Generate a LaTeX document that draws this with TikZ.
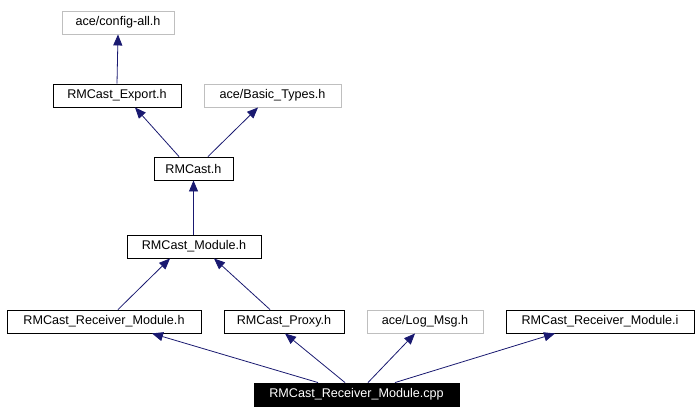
\documentclass[tikz,border=0pt]{standalone}
\usepackage{fontspec}
\setmainfont{Liberation Sans}
\usetikzlibrary{arrows.meta}
\definecolor{edge}{HTML}{191970}
\definecolor{gr}{HTML}{BFBFBF}
\begin{document}
\begin{tikzpicture}[x=1pt,y=-1pt,
 box/.style={draw=black,line width=0.9pt,minimum height=23pt,inner sep=0pt,font=\fontsize{12.6}{14}\selectfont},
 gbox/.style={box,draw=gr},
 dk/.style={box,fill=black,text=white},
 e/.style={draw=edge,line width=0.8pt,-{Triangle[length=11pt,width=9pt]}}]
\useasboundingbox (0,0) rectangle (700,415);
\node[gbox,minimum width=112pt] (cfg) at (118,22.5) {ace/config-all.h};
\node[box,minimum width=128pt] (exp) at (117,95.5) {RMCast\_Export.h};
\node[gbox,minimum width=137pt] (bt) at (272.5,95.5) {ace/Basic\_Types.h};
\node[box,minimum width=79pt] (rm) at (193.5,168.5) {RMCast.h};
\node[box,minimum width=134pt] (mod) at (194,246.5) {RMCast\_Module.h};
\node[box,minimum width=194pt] (rmh) at (104,321.5) {RMCast\_Receiver\_Module.h};
\node[box,minimum width=120pt] (px) at (284,321.5) {RMCast\_Proxy.h};
\node[gbox,minimum width=116pt] (lm) at (425,321.5) {ace/Log\_Msg.h};
\node[box,minimum width=188pt] (ri) at (600,321.5) {RMCast\_Receiver\_Module.i};
\node[dk,minimum width=205pt] (cpp) at (356.5,394.5) {RMCast\_Receiver\_Module.cpp};
\draw[e] (exp.north) -- (cfg.south);
\draw[e] (rm.north -| 179,0) -- (exp.south -| 135,0);
\draw[e] (rm.north -| 208,0) -- (bt.south -| 258,0);
\draw[e] (rm.south |- mod.north) -- (rm.south);
\draw[e] (mod.south) ++(0,0) (rmh.north -| 118,0) -- (mod.south -| 170,0);
\draw[e] (px.north -| 270,0) -- (mod.south -| 214,0);
\draw[e] (cpp.north -| 318,0) -- (rmh.south -| 152,0);
\draw[e] (cpp.north -| 345,0) -- (px.south -| 285,0);
\draw[e] (cpp.north -| 368,0) -- (lm.south -| 415,0);
\draw[e] (cpp.north -| 395,0) -- (ri.south -| 555,0);
\end{tikzpicture}
\end{document}
